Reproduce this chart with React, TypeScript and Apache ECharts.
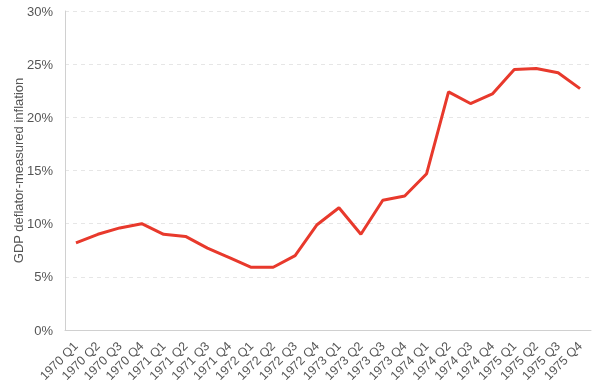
import React, { useEffect, useRef } from "react";
import * as echarts from "echarts";

const categories = [
  "1970 Q1", "1970 Q2", "1970 Q3", "1970 Q4",
  "1971 Q1", "1971 Q2", "1971 Q3", "1971 Q4",
  "1972 Q1", "1972 Q2", "1972 Q3", "1972 Q4",
  "1973 Q1", "1973 Q2", "1973 Q3", "1973 Q4",
  "1974 Q1", "1974 Q2", "1974 Q3", "1974 Q4",
  "1975 Q1", "1975 Q2", "1975 Q3", "1975 Q4",
];

const inflation = [
  8.2, 9.0, 9.6, 10.0,
  9.0, 8.8, 7.7, 6.8,
  5.9, 5.9, 7.0, 9.9,
  11.5, 9.0, 12.2, 12.6,
  14.7, 22.4, 21.3, 22.2,
  24.5, 24.6, 24.2, 22.7,
];

const yAxisName = "GDP deflator-measured inflation";

export default function App() {
  const ref = useRef<HTMLDivElement>(null);
  useEffect(() => {
    if (!ref.current) return;
    const chart = echarts.init(ref.current, undefined, { renderer: "svg" });
    chart.setOption({
      animation: false,
      textStyle: { fontFamily: "Liberation Sans, Arial, sans-serif" },
      grid: {
        left: 65,
        right: 9,
        top: 11,
        bottom: 60,
        containLabel: false,
        outerBoundsMode: "none",
      },
      xAxis: {
        type: "category",
        data: categories,
        boundaryGap: true,
        axisLine: { lineStyle: { color: "#d0d0d0", width: 1 } },
        axisTick: { show: false },
        axisLabel: {
          rotate: 45,
          color: "#555",
          fontSize: 12.5,
          interval: 0,
          margin: 14,
        },
        splitLine: { show: false },
      },
      yAxis: {
        type: "value",
        min: 0,
        max: 30,
        interval: 5,
        name: yAxisName,
        nameLocation: "middle",
        nameGap: 40,
        nameMoveOverlap: false,
        nameTextStyle: { color: "#555", fontSize: 13 },
        axisLine: { show: true, lineStyle: { color: "#d0d0d0", width: 1 } },
        axisTick: { show: false },
        axisLabel: {
          formatter: "{value}%",
          color: "#555",
          fontSize: 13,
          margin: 12,
        },
        splitLine: {
          show: true,
          lineStyle: { color: "#e6e6e6", type: [4, 4], width: 1 },
        },
      },
      series: [
        {
          type: "line",
          data: inflation,
          symbol: "none",
          lineStyle: { color: "#e8392c", width: 3 },
          itemStyle: { color: "#e8392c" },
        },
      ],
    });
    return () => chart.dispose();
  }, []);
  return (
    <div
      ref={ref}
      style={{ position: "fixed", left: 0, top: 0, width: 600, height: 390 }}
    />
  );
}
